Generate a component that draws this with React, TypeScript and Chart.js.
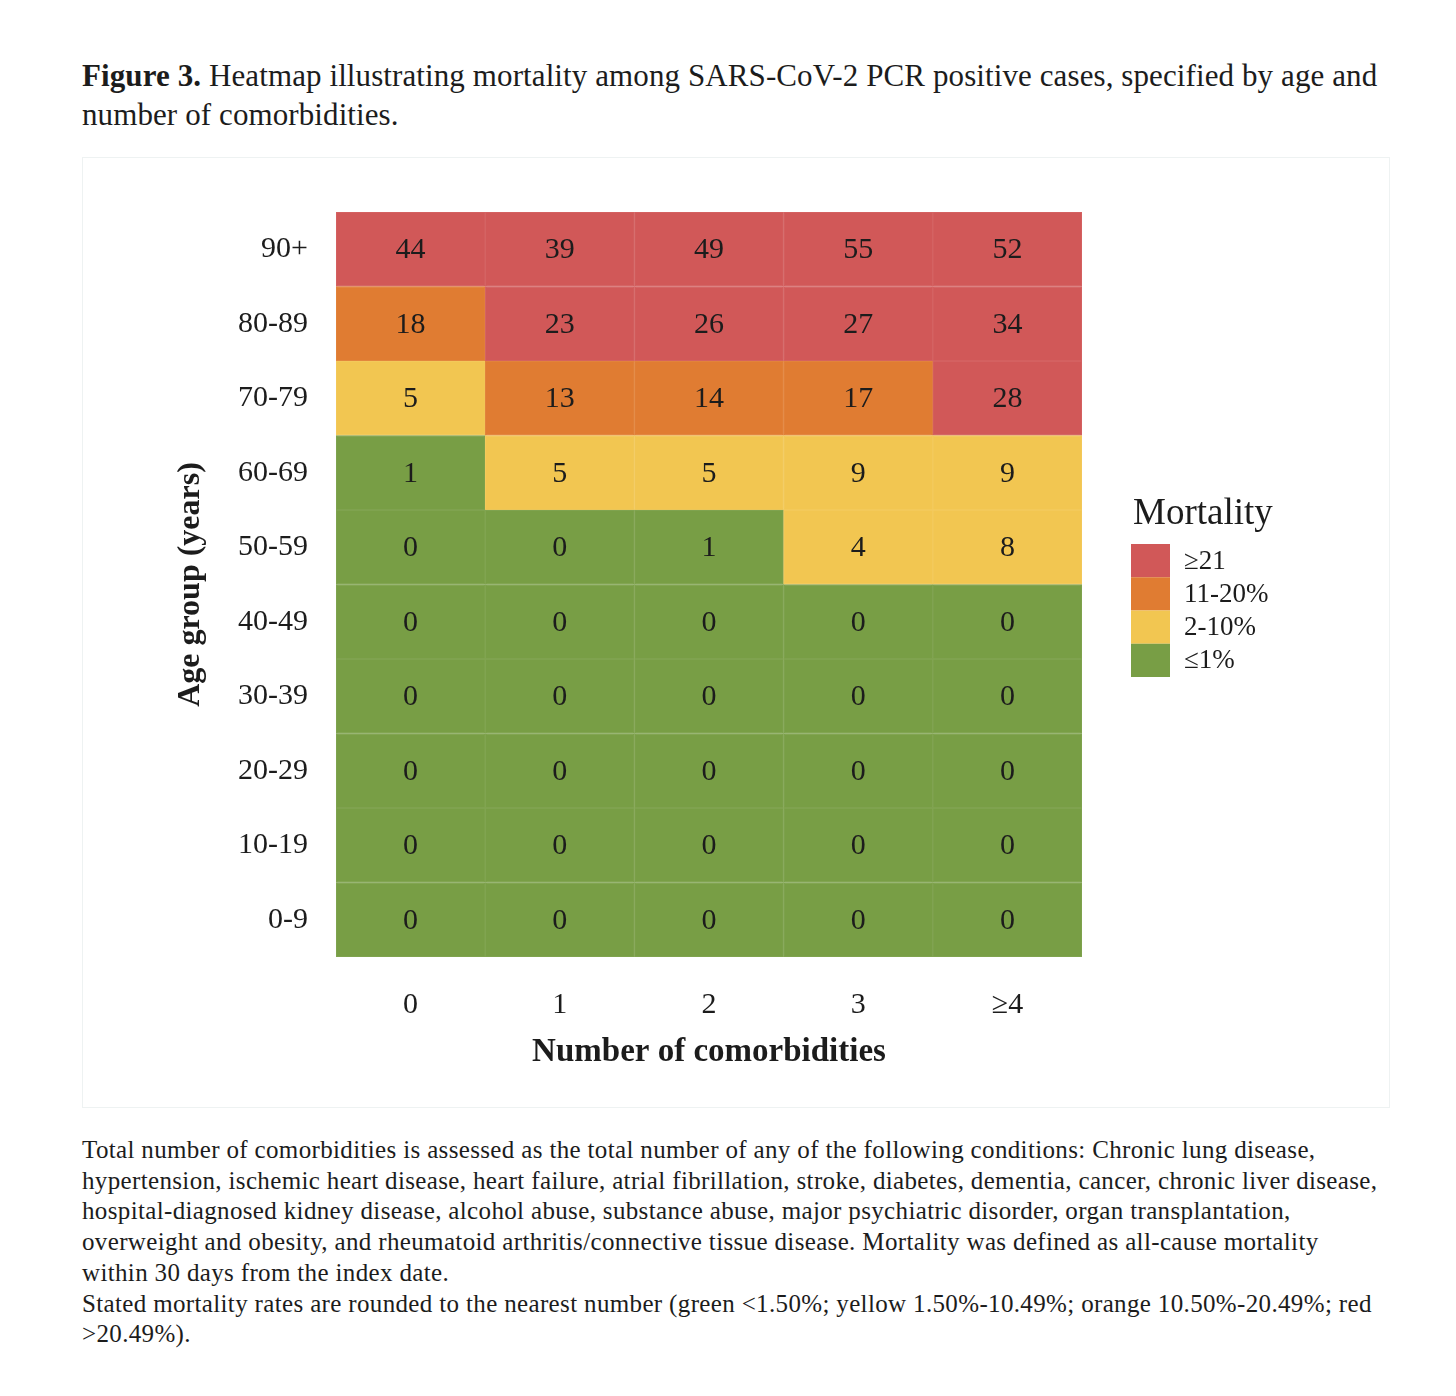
import React, { useEffect, useRef } from "react";
import { Chart, registerables } from "chart.js";

Chart.register(...registerables);

// ---- Data ----
const comorbidities = ["0", "1", "2", "3", "≥4"];
const ageGroups = ["0-9", "10-19", "20-29", "30-39", "40-49", "50-59", "60-69", "70-79", "80-89", "90+"];

const age0_9 = [0, 0, 0, 0, 0];
const age10_19 = [0, 0, 0, 0, 0];
const age20_29 = [0, 0, 0, 0, 0];
const age30_39 = [0, 0, 0, 0, 0];
const age40_49 = [0, 0, 0, 0, 0];
const age50_59 = [0, 0, 1, 4, 8];
const age60_69 = [1, 5, 5, 9, 9];
const age70_79 = [5, 13, 14, 17, 28];
const age80_89 = [18, 23, 26, 27, 34];
const age90plus = [44, 39, 49, 55, 52];

const mortalityRows = [age0_9, age10_19, age20_29, age30_39, age40_49, age50_59, age60_69, age70_79, age80_89, age90plus];

const legendLabels = ["≥21", "11-20%", "2-10%", "≤1%"];
const legendColors = ["#D15858", "#E07C32", "#F2C651", "#789E45"];
const legendEdgeColors = ["#D56565", "#E3863F", "#F3CA5E", "#82A553"];

const classFor = (v: number) => {
  if (v >= 21) return 0;
  if (v >= 11) return 1;
  if (v >= 2) return 2;
  return 3;
};

const SERIF = "'Liberation Serif', 'DejaVu Serif', serif";

const cellLabelPlugin = {
  id: "cellLabels",
  afterDatasetsDraw(chart: any) {
    const ctx = chart.ctx;
    ctx.save();
    ctx.font = `30px ${SERIF}`;
    ctx.fillStyle = "#1c1c1c";
    ctx.textAlign = "center";
    ctx.textBaseline = "middle";
    chart.data.datasets.forEach((ds: any, di: number) => {
      const meta = chart.getDatasetMeta(di);
      meta.data.forEach((el: any, i: number) => {
        const y = (el.y + el.base) / 2;
        ctx.fillText(String(mortalityRows[di][i]), el.x, y + 1);
      });
    });
    ctx.restore();
  },
};

const legendPlugin = {
  id: "heatLegend",
  afterDraw(chart: any) {
    const ctx = chart.ctx;
    const x0 = chart.chartArea.right + 49;
    ctx.save();
    ctx.font = `37px ${SERIF}`;
    ctx.fillStyle = "#1c1c1c";
    ctx.textAlign = "left";
    ctx.textBaseline = "middle";
    ctx.fillText("Mortality", x0 + 2, 357);
    const top = 387;
    const h = 33.25;
    legendLabels.forEach((lab, i) => {
      ctx.fillStyle = legendColors[i];
      ctx.fillRect(x0, top + i * h, 39, h);
      ctx.fillStyle = "#1c1c1c";
      ctx.font = `27px ${SERIF}`;
      ctx.fillText(lab, x0 + 53, top + i * h + h / 2 + 1);
    });
    ctx.restore();
  },
};

function HeatmapChart() {
  const ref = useRef<HTMLCanvasElement | null>(null);
  useEffect(() => {
    if (!ref.current) return;
    const chart = new Chart(ref.current, {
      type: "bar",
      data: {
        labels: comorbidities,
        datasets: mortalityRows.map((row, i) => ({
          label: ageGroups[i],
          data: row.map(() => [i, i + 1]) as any,
          backgroundColor: row.map((v) => legendColors[classFor(v)]),
          borderColor: row.map((v) => legendEdgeColors[classFor(v)]),
          borderWidth: 1,
          borderSkipped: false,
          barPercentage: 1,
          categoryPercentage: 1,
          grouped: false,
        })),
      },
      options: {
        animation: false,
        responsive: true,
        maintainAspectRatio: false,
        layout: { padding: { left: 0, top: 55, right: 308, bottom: 0 } },
        plugins: {
          legend: { display: false },
          tooltip: { enabled: false },
        },
        scales: {
          x: {
            grid: { display: false, drawTicks: false },
            border: { display: false },
            ticks: { font: { family: SERIF, size: 30 }, color: "#1c1c1c", padding: 30 },
            title: {
              display: true,
              text: "Number of comorbidities",
              font: { family: SERIF, size: 33, weight: "bold" },
              color: "#1c1c1c",
              padding: { top: 0, bottom: 36 },
            },
            afterFit: (scale: any) => {
              scale.height = 151;
            },
          },
          y: {
            type: "linear",
            min: 0,
            max: 10,
            grid: { display: false, drawTicks: false },
            border: { display: false },
            afterBuildTicks: (scale: any) => {
              scale.ticks = ageGroups.map((_, i) => ({ value: i + 0.5 }));
            },
            ticks: {
              font: { family: SERIF, size: 30 },
              color: "#1c1c1c",
              padding: 28,
              autoSkip: false,
              callback: (value: any) => ageGroups[Math.floor(Number(value))],
            },
            title: {
              display: true,
              text: "Age group (years)",
              font: { family: SERIF, size: 32, weight: "bold" },
              color: "#1c1c1c",
              padding: { top: 90, bottom: 0 },
            },
            afterFit: (scale: any) => {
              scale.width = 254;
            },
          },
        },
      },
      plugins: [cellLabelPlugin, legendPlugin],
    });
    return () => chart.destroy();
  }, []);
  return <canvas ref={ref} />;
}

export default function App() {
  const textColor = "#1c1c1c";
  return (
    <div style={{ fontFamily: SERIF, color: textColor }}>
      <div
        style={{
          position: "absolute",
          left: 82,
          top: 56,
          fontSize: 31,
          letterSpacing: "0.1px",
          lineHeight: "39px",
          whiteSpace: "nowrap",
        }}
      >
        <b>Figure 3.</b> Heatmap illustrating mortality among SARS-CoV-2 PCR positive cases, specified by age and
        <br />
        number of comorbidities.
      </div>
      <div
        style={{
          position: "absolute",
          left: 82,
          top: 157,
          width: 1308,
          height: 951,
          boxShadow: "inset 0 0 0 1px #eef2f2",
        }}
      >
        <HeatmapChart />
      </div>
      <div
        style={{
          position: "absolute",
          left: 82,
          top: 1135,
          fontSize: 25,
          letterSpacing: "0.35px",
          lineHeight: "30.7px",
          whiteSpace: "nowrap",
        }}
      >
        Total number of comorbidities is assessed as the total number of any of the following conditions: Chronic lung disease,
        <br />
        hypertension, ischemic heart disease, heart failure, atrial fibrillation, stroke, diabetes, dementia, cancer, chronic liver disease,
        <br />
        hospital-diagnosed kidney disease, alcohol abuse, substance abuse, major psychiatric disorder, organ transplantation,
        <br />
        overweight and obesity, and rheumatoid arthritis/connective tissue disease. Mortality was defined as all-cause mortality
        <br />
        within 30 days from the index date.
        <br />
        Stated mortality rates are rounded to the nearest number (green &lt;1.50%; yellow 1.50%-10.49%; orange 10.50%-20.49%; red
        <br />
        &gt;20.49%).
      </div>
    </div>
  );
}
